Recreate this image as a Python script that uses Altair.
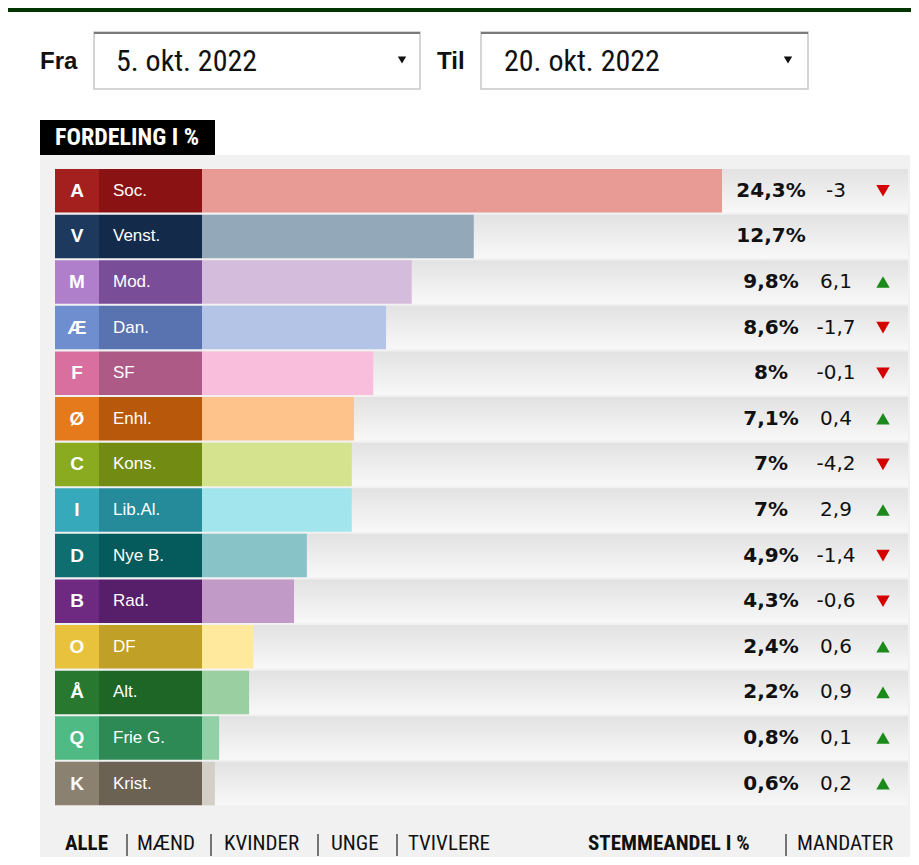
import altair as alt
import pandas as pd

letters = ["A", "V", "M", "Æ", "F", "Ø", "C", "I", "D", "B", "O", "Å", "Q", "K"]
names = ["Soc.", "Venst.", "Mod.", "Dan.", "SF", "Enhl.", "Kons.", "Lib.Al.",
         "Nye B.", "Rad.", "DF", "Alt.", "Frie G.", "Krist."]
shares = [24.3, 12.7, 9.8, 8.6, 8.0, 7.1, 7.0, 7.0, 4.9, 4.3, 2.4, 2.2, 0.8, 0.6]
changes = [-3, None, 6.1, -1.7, -0.1, 0.4, -4.2, 2.9, -1.4, -0.6, 0.6, 0.9, 0.1, 0.2]
letter_colors = ["#a3201f", "#1d3a5e", "#b07fcb", "#6f8ecf", "#d86f9f", "#e47a1c", "#8aab1f",
                 "#36a9ba", "#0f6f70", "#6d2a80", "#e8c23c", "#28792f", "#4fba84", "#8a8171"]
name_colors = ["#8b1212", "#142a4a", "#7a4d98", "#5873b0", "#ad5a86", "#b8580a", "#728b13",
               "#258a99", "#055a5b", "#571e69", "#c0a026", "#1d6625", "#2e8a55", "#6b6253"]
bar_colors = ["#e89a95", "#93a8b8", "#d4bcdc", "#b3c4e7", "#f9bedb", "#fdc38b", "#d5e38f",
              "#a2e5ec", "#88c3c8", "#c29ac8", "#fee99c", "#9acfa2", "#92d1a8", "#d3cfc6"]

date_from = "5. okt. 2022"
date_to = "20. okt. 2022"
filters = ["ALLE", "MÆND", "KVINDER", "UNGE", "TVIVLERE"]
modes = ["STEMMEANDEL I %", "MANDATER"]


def fmt(v):
    s = f"{v:.1f}".replace(".", ",")
    if s.endswith(",0"):
        s = s[:-2]
    return s


df = pd.DataFrame({
    "letter": letters,
    "name": names,
    "share": shares,
    "share_label": [fmt(v) + "%" for v in shares],
    "change_label": ["" if c is None else fmt(c) for c in changes],
    "shape": ["" if c is None else ("triangle-down" if c < 0 else "triangle-up") for c in changes],
    "tri_color": ["#ffffff" if c is None else ("#d40000" if c < 0 else "#1b8a1b") for c in changes],
    "lc": letter_colors,
    "nc": name_colors,
    "bc": bar_colors,
})
tri_df = df[df["shape"] != ""]

W, H = 903, 849


def P(v):
    return v - 8


NARROW = "Liberation Sans Narrow, Roboto Condensed, Liberation Sans, sans-serif"
SANS = "Liberation Sans, Arial, sans-serif"
WIDE = "DejaVu Sans, Verdana, sans-serif"

one = alt.Data(values=[{"k": 1}])

yscale = alt.Scale(domain=letters, range=[P(168), P(168) + 14 * 45.6],
                   paddingInner=0.045, paddingOuter=0.0225)
Y = alt.Y("letter:N", sort=letters, scale=yscale, axis=None)
xscale = alt.Scale(domain=[0, 33], range=[P(202), P(202) + 33 * 21.4], nice=False, zero=True)


def box(x1, x2, y1, y2, fill, stroke=None, sw=0):
    kw = dict(fill=fill)
    if stroke:
        kw.update(stroke=stroke, strokeWidth=sw)
    return alt.Chart(one).mark_rect(**kw).encode(
        x=alt.value(P(x1)), x2=alt.value(P(x2)), y=alt.value(P(y1)), y2=alt.value(P(y2)))


def label(txt, x, y, size, bold=False, color="#111111", font=NARROW, align="left"):
    return alt.Chart(one).mark_text(
        text=txt, fontSize=size, fontWeight="bold" if bold else "normal", font=font,
        color=color, align=align, baseline="middle").encode(
        x=alt.value(P(x)), y=alt.value(P(y)))


def vline(x, y1, y2, color="#222222", w=1.2):
    return alt.Chart(one).mark_rule(color=color, strokeWidth=w).encode(
        x=alt.value(P(x)), y=alt.value(P(y1)), y2=alt.value(P(y2)))


def hline(x1, x2, y, color, w=1.5):
    return alt.Chart(one).mark_rule(color=color, strokeWidth=w).encode(
        x=alt.value(P(x1)), x2=alt.value(P(x2)), y=alt.value(P(y)))


def tri(x, y):
    return alt.Chart(one).mark_point(shape="triangle-down", filled=True, size=70,
                                     color="#111111", opacity=1).encode(
        x=alt.value(P(x)), y=alt.value(P(y)))


layers = []
# page panels
layers.append(alt.Chart(one).mark_rect(fill="#ffffff").encode(
    x=alt.value(0), x2=alt.value(W), y=alt.value(4), y2=alt.value(H)))
layers.append(box(40, 910, 155, 865, "#f1f1f1"))

# header controls
layers.append(label("Fra", 40, 62, 24, bold=True, font=SANS))
layers.append(box(94, 420, 32, 89, "#ffffff", "#c8c8c8", 1.5))
layers.append(hline(94, 420, 33, "#7a7a7a", 2))
layers.append(label(date_from, 116, 62, 30, font=NARROW))
layers.append(tri(402, 60))
layers.append(label("Til", 437, 62, 24, bold=True, font=SANS))
layers.append(box(481, 808, 32, 89, "#ffffff", "#c8c8c8", 1.5))
layers.append(hline(481, 808, 33, "#7a7a7a", 2))
layers.append(label(date_to, 504, 62, 30, font=NARROW))
layers.append(tri(788, 60))

layers.append(box(40, 215, 120, 155, "#000000"))
layers.append(label("FORDELING I %", 55, 138, 24, bold=True, color="#ffffff"))

# rows
track = alt.LinearGradient(
    gradient="linear", x1=0, y1=0, x2=0, y2=1,
    stops=[alt.GradientStop(color="#e2e2e2", offset=0),
           alt.GradientStop(color="#f8f8f8", offset=1)])
base = alt.Chart(df)
layers.append(base.mark_rect(color=track).encode(y=Y, x=alt.value(P(202)), x2=alt.value(P(908))))
layers.append(base.mark_bar(cornerRadius=0).encode(
    y=Y, x=alt.X("share:Q", scale=xscale, axis=None), color=alt.Color("bc:N", scale=None)))
layers.append(base.mark_rect().encode(
    y=Y, x=alt.value(P(55)), x2=alt.value(P(99)), color=alt.Color("lc:N", scale=None)))
layers.append(base.mark_rect().encode(
    y=Y, x=alt.value(P(99)), x2=alt.value(P(202)), color=alt.Color("nc:N", scale=None)))
layers.append(base.mark_text(color="#ffffff", fontSize=19, fontWeight="bold", font=SANS,
                             align="center", baseline="middle").encode(
    y=Y, x=alt.value(P(77)), text="letter:N"))
layers.append(base.mark_text(color="#ffffff", fontSize=17, font=SANS,
                             align="left", baseline="middle").encode(
    y=Y, x=alt.value(P(113)), text="name:N"))
layers.append(base.mark_text(color="#111111", fontSize=20, fontWeight="bold", font=WIDE,
                             align="center", baseline="middle").encode(
    y=Y, x=alt.value(P(771)), text="share_label:N"))
layers.append(base.mark_text(color="#111111", fontSize=20, font=WIDE,
                             align="center", baseline="middle").encode(
    y=Y, x=alt.value(P(836)), text="change_label:N"))
layers.append(alt.Chart(tri_df).mark_point(filled=True, size=180, opacity=1).encode(
    y=Y, x=alt.value(P(883)), shape=alt.Shape("shape:N", scale=None),
    color=alt.Color("tri_color:N", scale=None)))

# bottom filters
fy = 844
fx = [65, 137, 224, 331, 408]
for i, (t, x) in enumerate(zip(filters, fx)):
    layers.append(label(t, x, fy, 21, bold=(i == 0)))
for x in [127, 211, 318, 397]:
    layers.append(vline(x, 834, 856))
layers.append(label(modes[0], 588, fy, 21, bold=True))
layers.append(vline(786, 834, 856))
layers.append(label(modes[1], 797, fy, 21))

chart = alt.layer(*layers).properties(
    width=W, height=H, background="#023402", padding=0,
    autosize=alt.AutoSizeParams(type="none"),
).configure_view(stroke=None)

chart.save("out.html", embed_options={"renderer": "svg", "actions": False})
